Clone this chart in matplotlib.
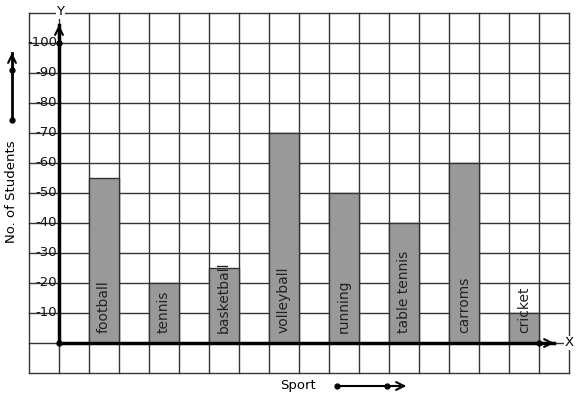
import matplotlib
matplotlib.use("Agg")
import matplotlib.pyplot as plt
from matplotlib.patches import Rectangle

sports = ['football', 'tennis', 'basketball', 'volleyball', 'running',
          'table tennis', 'carroms', 'cricket']
students = [55, 20, 25, 70, 50, 40, 60, 10]
yticks = [10, 20, 30, 40, 50, 60, 70, 80, 90, 100]

fig = plt.figure(figsize=(5.77, 3.99), dpi=100)
ax = fig.add_axes([0, 0, 1, 1])
ax.set_xlim(-59 / 30, 518 / 30)
ax.set_ylim(-56 / 3, 343 / 3)
ax.axis('off')

# graph paper grid
for gx in range(-1, 18):
    ax.plot([gx, gx], [-10, 110], color='#333333', lw=1, zorder=1)
for gy in range(-10, 111, 10):
    ax.plot([-1, 17], [gy, gy], color='#333333', lw=1, zorder=1)

# bars
for i, (name, v) in enumerate(zip(sports, students)):
    x0 = 1 + 2 * i
    ax.add_patch(Rectangle((x0, 0), 1, v, facecolor='#999999',
                           edgecolor='#333333', lw=1, zorder=2))
    ax.text(x0 + 0.5, 3.3, name, rotation=90, ha='center', va='bottom',
            fontsize=10, color='#222222', zorder=5)

# axes with arrows
ax.plot([0, 16.5], [0, 0], color='black', lw=2.5, zorder=4)
ax.plot([0, 0], [0, 106], color='black', lw=2.5, zorder=4)
ax.annotate('', xy=(16.6, 0), xytext=(16.0, 0),
            arrowprops=dict(arrowstyle='->', lw=1.5, color='black', mutation_scale=14), zorder=4)
ax.annotate('', xy=(0, 107), xytext=(0, 100),
            arrowprops=dict(arrowstyle='->', lw=1.5, color='black', mutation_scale=14), zorder=4)
ax.plot([0, 0, 16], [0, 100, 0], 'o', color='black', ms=3.5, zorder=6)
ax.text(16.85, 0, 'X', ha='left', va='center', fontsize=9.5,
        bbox=dict(facecolor='white', edgecolor='none', pad=0.5), zorder=5)
ax.text(0.05, 110.5, 'Y', ha='center', va='center', fontsize=9.5,
        bbox=dict(facecolor='white', edgecolor='none', pad=0.5), zorder=5)

for t in yticks:
    ax.text(-0.07, t, '-' + str(t), ha='right', va='center', fontsize=9.5,
            color='#111111', zorder=5)

# axis titles with direction arrows
fig.text(12 / 577, 1 - 192 / 399, 'No. of Students', rotation=90,
         ha='center', va='center', fontsize=9.5)
fig.text(298 / 577, 1 - 385 / 399, 'Sport', ha='center', va='center', fontsize=9.5)

ax.plot([(12 - 59) / 30] * 2, [(343 - 120) / 3, (343 - 53) / 3], color='black', lw=2, zorder=4)
ax.annotate('', xy=((12 - 59) / 30, (343 - 50) / 3), xytext=((12 - 59) / 30, (343 - 60) / 3),
            arrowprops=dict(arrowstyle='->', lw=1.5, color='black', mutation_scale=14))
ax.plot([(12 - 59) / 30] * 2, [(343 - 120) / 3, (343 - 70) / 3], 'o', color='black', ms=3.5)

ax.plot([(337 - 59) / 30, (404 - 59) / 30], [(343 - 386) / 3] * 2, color='black', lw=1.5)
ax.annotate('', xy=((409 - 59) / 30, (343 - 386) / 3), xytext=((398 - 59) / 30, (343 - 386) / 3),
            arrowprops=dict(arrowstyle='->', lw=1.5, color='black', mutation_scale=14))
ax.plot([(337 - 59) / 30, (387 - 59) / 30], [(343 - 386) / 3] * 2, 'o', color='black', ms=3.5)

fig.savefig('out.png', dpi=100)
